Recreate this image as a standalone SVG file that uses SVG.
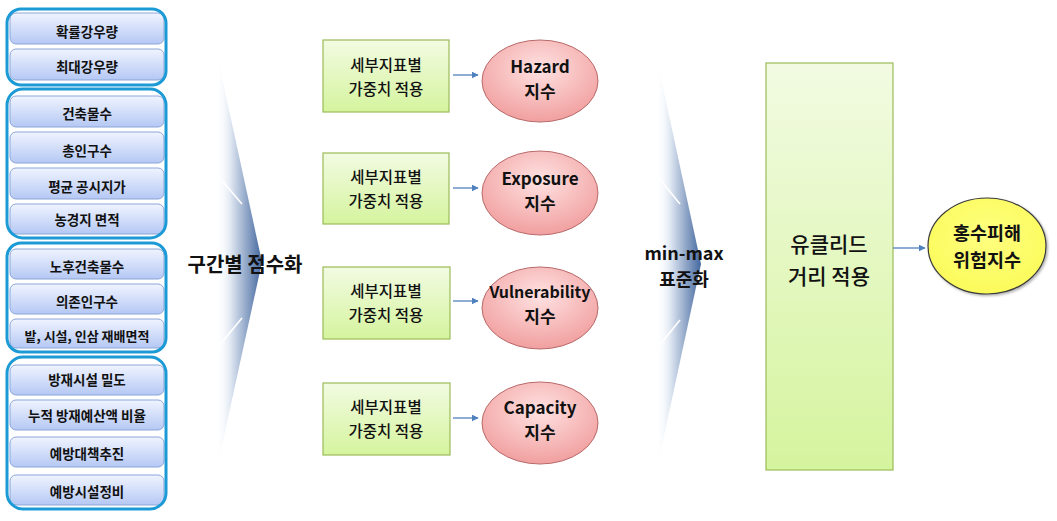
<svg xmlns="http://www.w3.org/2000/svg" width="1057" height="521" viewBox="0 0 1057 521">
<defs>
<linearGradient id="gBlue" x1="0" y1="0" x2="0" y2="1">
<stop offset="0" stop-color="#f0f4ff"/>
<stop offset="1" stop-color="#b5c8f4"/>
</linearGradient>
<linearGradient id="gGreen" x1="0" y1="0" x2="0" y2="1">
<stop offset="0" stop-color="#f2fbe2"/>
<stop offset="1" stop-color="#d5f49e"/>
</linearGradient>
<radialGradient id="gPink" cx="0.5" cy="0.35" r="0.7">
<stop offset="0" stop-color="#ffe2e2"/>
<stop offset="1" stop-color="#f09a9a"/>
</radialGradient>
<radialGradient id="gYellow" cx="0.5" cy="0.4" r="0.7">
<stop offset="0" stop-color="#ffff80"/>
<stop offset="1" stop-color="#fafa55"/>
</radialGradient>
<linearGradient id="gChev1" gradientUnits="userSpaceOnUse" x1="216" y1="0" x2="262" y2="0">
<stop offset="0" stop-color="#ffffff" stop-opacity="0"/>
<stop offset="0.3" stop-color="#e3eaf4"/>
<stop offset="1" stop-color="#44689f"/>
</linearGradient>
<linearGradient id="gChev2" gradientUnits="userSpaceOnUse" x1="656" y1="0" x2="701" y2="0">
<stop offset="0" stop-color="#ffffff" stop-opacity="0"/>
<stop offset="0.3" stop-color="#e3eaf4"/>
<stop offset="1" stop-color="#44689f"/>
</linearGradient>
<marker id="arr" viewBox="0 0 10 10" refX="9" refY="5" markerWidth="7" markerHeight="7" markerUnits="userSpaceOnUse" orient="auto">
<path d="M0,0 L10,5 L0,10 z" fill="#4f81bd"/>
</marker>
<filter id="sh" x="-10%" y="-10%" width="130%" height="130%">
<feDropShadow dx="1.5" dy="1.5" stdDeviation="1" flood-color="#000" flood-opacity="0.3"/>
</filter>
</defs>
<style>
text{font-family:"Noto Sans CJK KR","Noto Sans",sans-serif;font-weight:bold;fill:#111;text-anchor:middle;dominant-baseline:central}
.item rect{fill:url(#gBlue);stroke:#8ba6d8;stroke-width:1}
.item text{font-size:13.5px}
.grp{fill:none;stroke:#1c9ad6;stroke-width:3}
.wbox{fill:url(#gGreen);stroke:#9bbb59;stroke-width:1.2}
.wbox-t{font-size:15.5px;font-weight:500}
.idx{fill:url(#gPink);stroke:#b86a6a;stroke-width:1}
.idx-t{font-size:17px}
.conn line{stroke:#4f81bd;stroke-width:1.3;marker-end:url(#arr)}
.hl{stroke:#ffffff;stroke-width:1.6;fill:none}
</style>

<!-- Left indicator groups -->
<g id="group-hazard">
<g class="item"><rect x="10" y="13" width="154" height="31" rx="6"/><text x="87" y="31">확률강우량</text></g>
<g class="item"><rect x="10" y="49" width="154" height="31" rx="6"/><text x="87" y="66">최대강우량</text></g>
<rect class="grp" x="7" y="9" width="159" height="76" rx="14"/>
</g>
<g id="group-exposure">
<g class="item"><rect x="10" y="96" width="154" height="31" rx="6"/><text x="87" y="113">건축물수</text></g>
<g class="item"><rect x="10" y="132" width="154" height="31" rx="6"/><text x="87" y="150">총인구수</text></g>
<g class="item"><rect x="10" y="168" width="154" height="31" rx="6"/><text x="87" y="186">평균 공시지가</text></g>
<g class="item"><rect x="10" y="204" width="154" height="30" rx="6"/><text x="87" y="219">농경지 면적</text></g>
<rect class="grp" x="7" y="89" width="159" height="149" rx="16"/>
</g>
<g id="group-vulnerability">
<g class="item"><rect x="10" y="249" width="154" height="30" rx="6"/><text x="87" y="266">노후건축물수</text></g>
<g class="item"><rect x="10" y="284" width="154" height="30" rx="6"/><text x="87" y="301">의존인구수</text></g>
<g class="item"><rect x="10" y="319" width="154" height="29" rx="6"/><text x="87" y="335" style="font-size:13px">밭, 시설, 인삼 재배면적</text></g>
<rect class="grp" x="7" y="243" width="159" height="109" rx="14"/>
</g>
<g id="group-capacity">
<g class="item"><rect x="10" y="365" width="154" height="30" rx="6"/><text x="87" y="379">방재시설 밀도</text></g>
<g class="item"><rect x="10" y="400" width="154" height="30" rx="6"/><text x="87" y="415">누적 방재예산액 비율</text></g>
<g class="item"><rect x="10" y="437" width="154" height="30" rx="6"/><text x="87" y="453">예방대책추진</text></g>
<g class="item"><rect x="10" y="475" width="154" height="30" rx="6"/><text x="87" y="491">예방시설정비</text></g>
<rect class="grp" x="7" y="357" width="159" height="152" rx="16"/>
</g>

<!-- Chevron 1 -->
<g id="chevron-scoring">
<polygon points="216,50 262,262 216,473" fill="url(#gChev1)"/>
<polyline class="hl" points="218,176 242,204"/>
<polyline class="hl" points="218,347 242,318"/>
<text x="245" y="263" style="font-size:20px">구간별 점수화</text>
</g>

<!-- Weight boxes and index ellipses -->
<g id="weight-1"><rect class="wbox" x="323" y="40" width="126" height="72"/><text class="wbox-t" x="386" y="64">세부지표별</text><text class="wbox-t" x="386" y="88">가중치 적용</text></g>
<g id="weight-2"><rect class="wbox" x="323" y="153" width="126" height="71"/><text class="wbox-t" x="386" y="176">세부지표별</text><text class="wbox-t" x="386" y="200">가중치 적용</text></g>
<g id="weight-3"><rect class="wbox" x="323" y="267" width="127" height="72"/><text class="wbox-t" x="386" y="290">세부지표별</text><text class="wbox-t" x="386" y="314">가중치 적용</text></g>
<g id="weight-4"><rect class="wbox" x="323" y="383" width="127" height="72"/><text class="wbox-t" x="386" y="406">세부지표별</text><text class="wbox-t" x="386" y="430">가중치 적용</text></g>

<g id="hazard"><ellipse class="idx" cx="540" cy="81" rx="58" ry="41"/><text class="idx-t" x="540" y="65">Hazard</text><text class="idx-t" x="540" y="90">지수</text></g>
<g id="exposure"><ellipse class="idx" cx="540" cy="193" rx="58" ry="42"/><text class="idx-t" x="540" y="177">Exposure</text><text class="idx-t" x="540" y="202">지수</text></g>
<g id="vulnerability"><ellipse class="idx" cx="540" cy="308" rx="58" ry="41"/><text class="idx-t" x="540" y="291" style="font-size:16px">Vulnerability</text><text class="idx-t" x="540" y="315">지수</text></g>
<g id="capacity"><ellipse class="idx" cx="540" cy="423" rx="58" ry="41"/><text class="idx-t" x="540" y="406">Capacity</text><text class="idx-t" x="540" y="431">지수</text></g>

<!-- Chevron 2 -->
<g id="chevron-minmax">
<polygon points="656,55 701,264 656,473" fill="url(#gChev2)"/>
<polyline class="hl" points="658,177 680,204"/>
<polyline class="hl" points="658,347 680,320"/>
<text x="684" y="252" style="font-size:18px">min-max</text>
<text x="684" y="278" style="font-size:18px">표준화</text>
</g>

<!-- Euclidean -->
<g id="euclidean">
<rect x="766" y="63" width="127" height="407" fill="url(#gGreen)" stroke="#9bbb59" stroke-width="1.2"/>
<text x="829" y="243" style="font-size:21px;font-weight:500">유클리드</text>
<text x="829" y="275" style="font-size:21px;font-weight:500">거리 적용</text>
</g>

<!-- Result -->
<g id="flood-risk">
<ellipse cx="987" cy="246" rx="59" ry="48" fill="url(#gYellow)" stroke="#3a3a3a" stroke-width="1.2" filter="url(#sh)"/>
<text x="987" y="232" style="font-size:18.5px">홍수피해</text>
<text x="987" y="259" style="font-size:18.5px">위험지수</text>
</g>

<!-- Connectors -->
<g id="connectors" class="conn">
<line x1="453" y1="75" x2="478" y2="75"/>
<line x1="453" y1="188" x2="478" y2="188"/>
<line x1="453" y1="301" x2="478" y2="301"/>
<line x1="453" y1="418" x2="478" y2="418"/>
<line x1="893" y1="248" x2="925" y2="248"/>
</g>
</svg>
